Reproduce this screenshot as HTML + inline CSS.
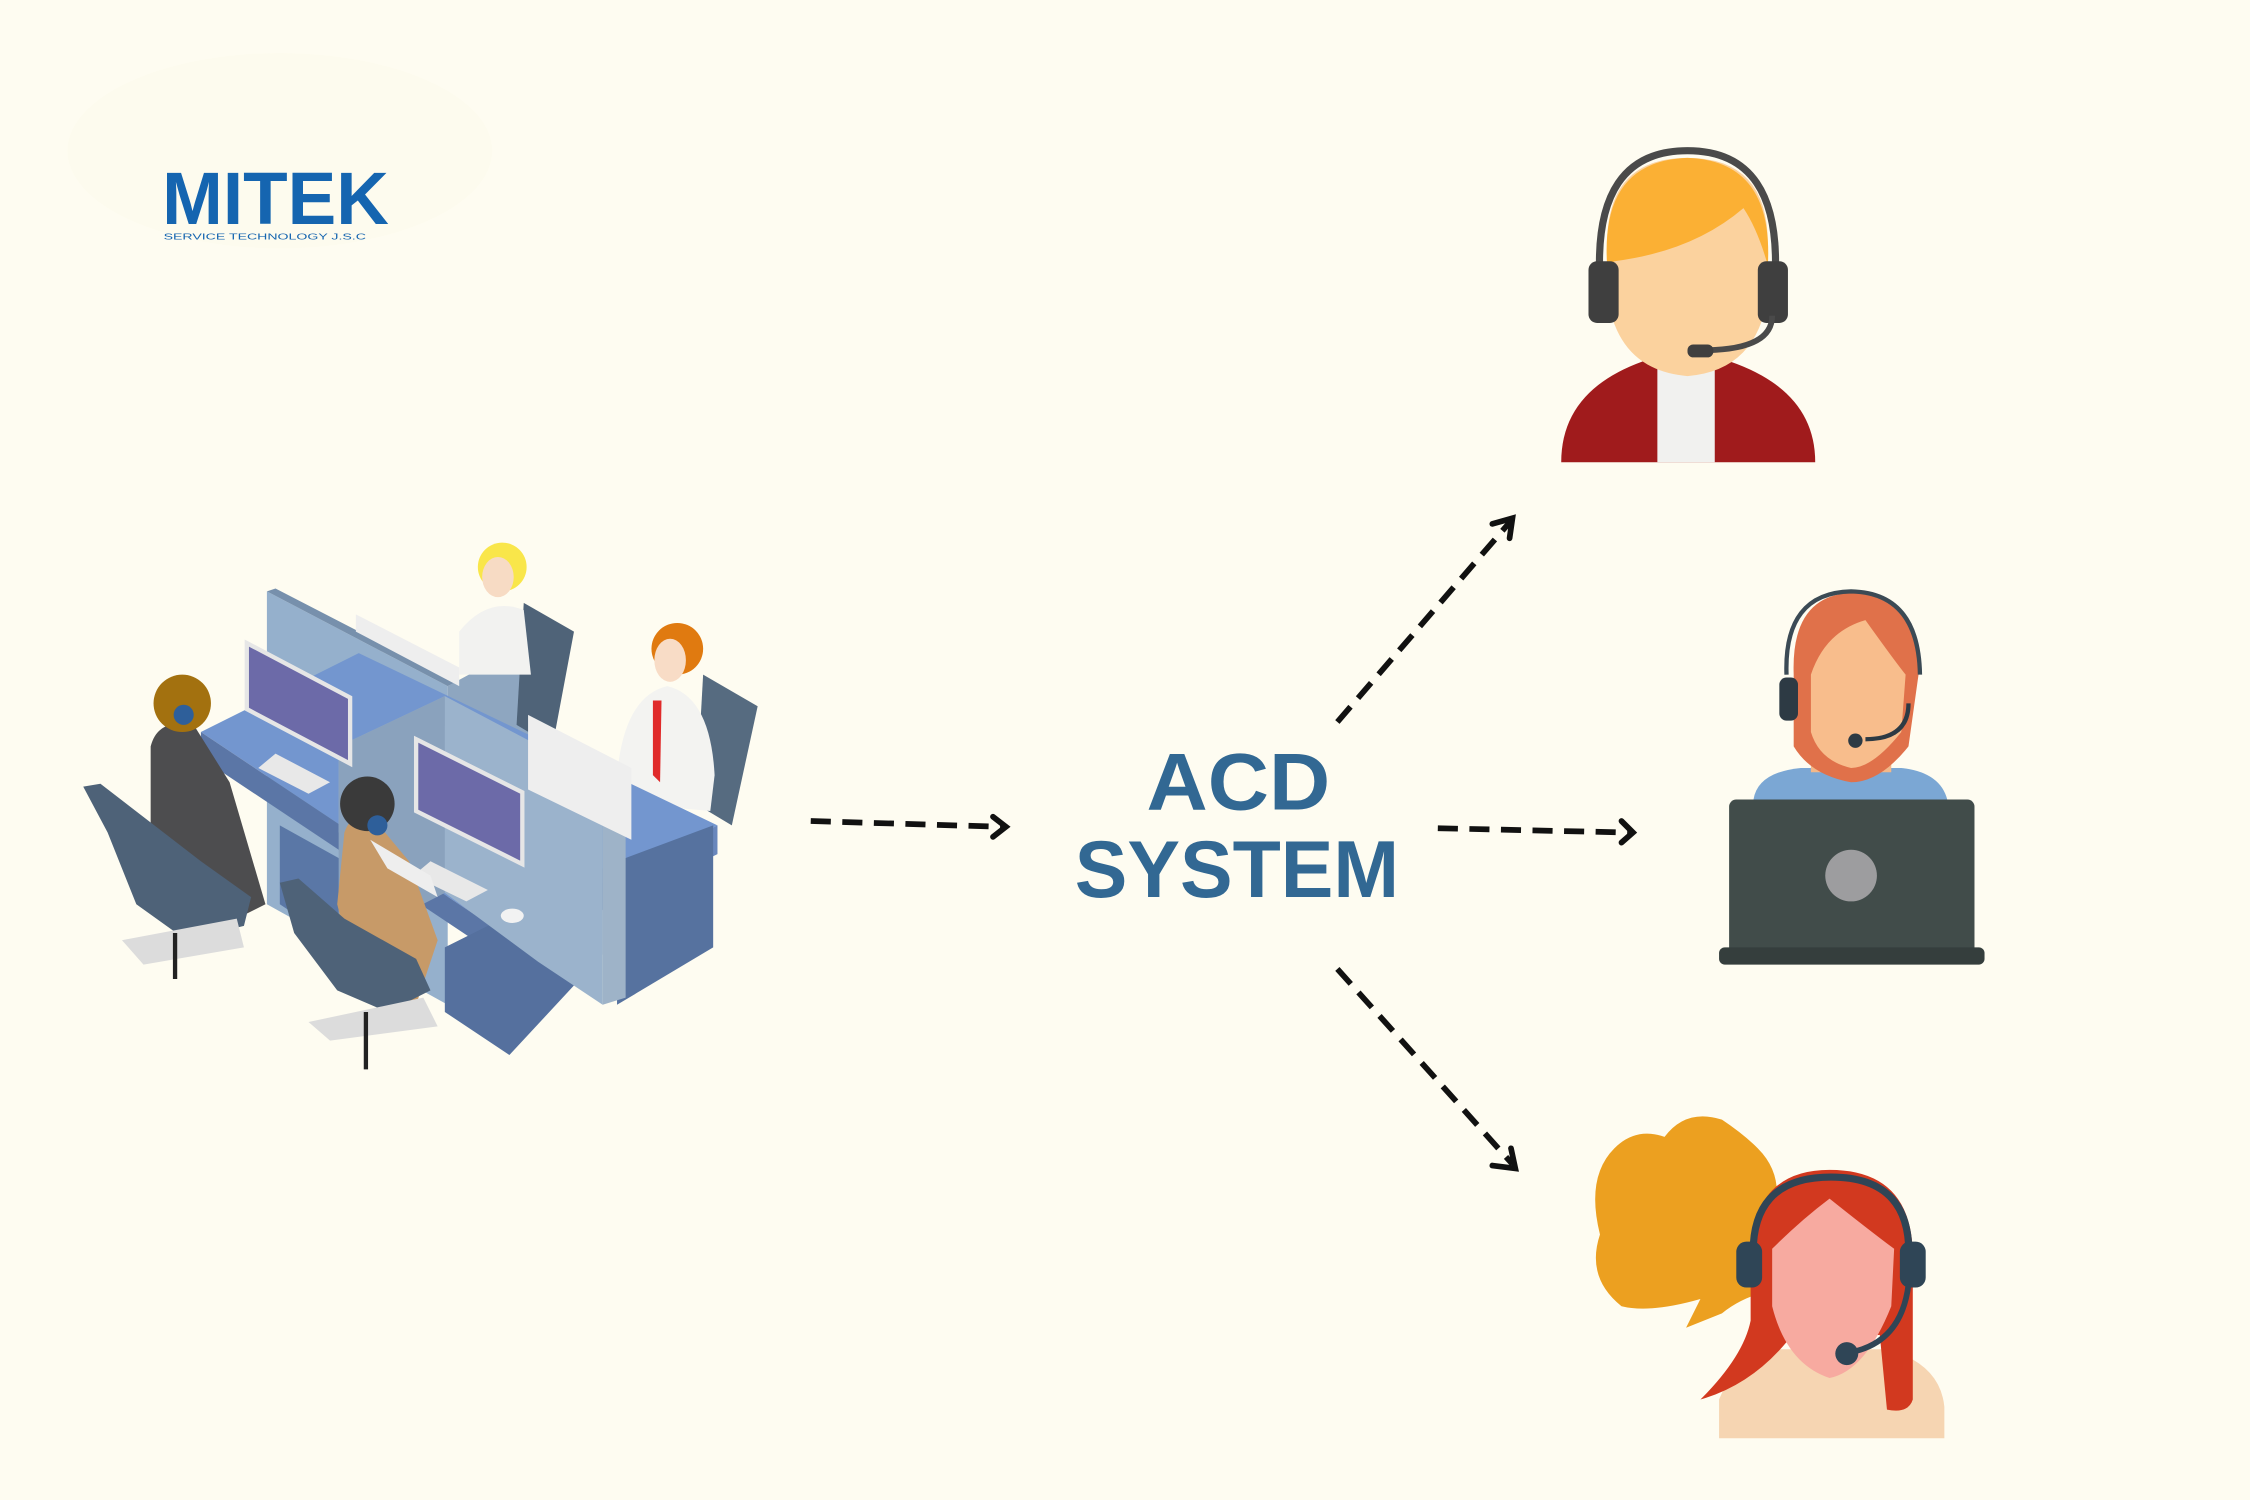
<!DOCTYPE html>
<html><head><meta charset="utf-8"><style>
html,body{margin:0;padding:0;background:#fefcf1;}
svg{display:block}
</style></head><body>
<svg width="2250" height="1500" viewBox="0 0 1568 1045" preserveAspectRatio="none" xmlns="http://www.w3.org/2000/svg">
<rect width="1568" height="1045" fill="#fefcf1"/>
<ellipse cx="195" cy="105" rx="148" ry="68" fill="#fdfbee"/>
<!-- logo -->
<text x="113" y="156" font-family="Liberation Sans, sans-serif" font-weight="bold" font-size="52" fill="#1565b0" textLength="158" lengthAdjust="spacingAndGlyphs">MITEK</text>
<text x="114" y="167" font-family="Liberation Sans, sans-serif" font-size="5.5" fill="#1565b0" textLength="141" lengthAdjust="spacingAndGlyphs">SERVICE TECHNOLOGY J.S.C</text>

<!-- ACD SYSTEM -->
<text x="863" y="564" text-anchor="middle" font-family="Liberation Sans, sans-serif" font-weight="bold" font-size="56" fill="#326893" textLength="128" lengthAdjust="spacingAndGlyphs">ACD</text>
<text x="862" y="625" text-anchor="middle" font-family="Liberation Sans, sans-serif" font-weight="bold" font-size="56" fill="#326893" textLength="226" lengthAdjust="spacingAndGlyphs">SYSTEM</text>

<!-- arrows -->
<g stroke="#111" stroke-width="4" fill="none" stroke-dasharray="14,8">
<line x1="565" y1="572" x2="698" y2="576"/>
<line x1="1002" y1="577" x2="1135" y2="580"/>
<line x1="932" y1="503" x2="1052" y2="364"/>
<line x1="932" y1="675" x2="1054" y2="811"/>
</g>
<g stroke="#111" stroke-width="4" fill="none" stroke-linecap="round">
<polyline points="692,569 701,576 692,583"/>
<polyline points="1130,572 1138,580 1130,587"/>
<polyline points="1040,365 1054,361 1052,375"/>
<polyline points="1040,812 1056,814 1053,800"/>
</g>

<!-- agent 1 -->
<path d="M1088,322 Q1088,270 1150,250 L1200,250 Q1265,270 1265,322 Z" fill="#a01b1c"/>
<path d="M1155,252 L1195,252 L1195,322 L1155,322 Z" fill="#f1f1ef"/>
<rect x="1158" y="225" width="34" height="30" fill="#f9d09c"/>
<path d="M1120,170 Q1120,110 1176,110 Q1232,110 1232,170 L1232,205 Q1225,258 1176,262 Q1127,258 1120,205 Z" fill="#fbd29e"/>
<path d="M1120,185 Q1115,112 1176,110 Q1236,112 1232,185 Q1225,160 1215,145 Q1180,175 1125,182 Z" fill="#fbb034"/>
<path d="M1115,195 Q1110,105 1176,105 Q1242,105 1237,195" stroke="#4a4a4a" stroke-width="5" fill="none"/>
<rect x="1107" y="182" width="21" height="43" rx="6" fill="#3f3f3f"/>
<rect x="1225" y="182" width="21" height="43" rx="6" fill="#3f3f3f"/>
<path d="M1235,220 Q1235,243 1190,244" stroke="#4a4a4a" stroke-width="4" fill="none"/>
<rect x="1176" y="240" width="18" height="9" rx="4" fill="#3f3f3f"/>

<!-- agent 2 -->
<path d="M1222,557 Q1225,538 1255,535 L1325,535 Q1352,538 1357,557 Z" fill="#7ba7d4"/>
<rect x="1262" y="520" width="56" height="18" fill="#f2b88a"/>
<path d="M1250,470 Q1248,415 1290,413 Q1336,415 1337,470 L1330,520 Q1310,545 1290,545 Q1262,540 1250,520 Z" fill="#e0714a"/>
<path d="M1262,470 Q1272,440 1300,432 Q1320,460 1328,470 L1325,510 Q1305,535 1290,535 Q1268,530 1262,510 Z" fill="#f8bd8c"/>
<path d="M1245,470 Q1243,413 1290,412 Q1337,413 1338,470" stroke="#3b4a55" stroke-width="3" fill="none"/>
<rect x="1240" y="472" width="13" height="30" rx="5" fill="#2d3a44"/>
<path d="M1330,490 Q1330,515 1300,515" stroke="#2d3a44" stroke-width="3" fill="none"/>
<circle cx="1293" cy="516" r="5" fill="#2d3a44"/>
<rect x="1205" y="557" width="171" height="108" rx="5" fill="#414c4a"/>
<circle cx="1290" cy="610" r="18" fill="#9d9d9f"/>
<rect x="1198" y="660" width="185" height="12" rx="4" fill="#353e3d"/>

<!-- agent 3 -->
<path d="M1130,910 Q1105,890 1115,860 Q1105,820 1125,800 Q1140,785 1160,792 Q1175,772 1200,780 Q1215,790 1225,800 Q1245,820 1235,850 L1230,900 Q1212,905 1200,915 L1175,925 L1185,905 Q1150,915 1130,910 Z" fill="#eca020"/>
<path d="M1198,1002 L1198,975 Q1210,945 1240,940 L1315,940 Q1352,950 1355,980 L1355,1002 Z" fill="#f6d5b2"/>
<path d="M1220,890 Q1215,815 1275,815 Q1335,815 1333,880 L1333,975 Q1330,985 1315,982 L1310,930 L1245,935 Q1220,965 1185,975 Q1215,945 1220,920 Z" fill="#d2391f"/>
<path d="M1235,870 Q1255,850 1275,835 Q1300,855 1320,870 L1318,910 Q1300,955 1275,960 Q1245,950 1235,910 Z" fill="#f7aaa0"/>
<path d="M1222,880 Q1218,820 1276,820 Q1334,820 1330,880" stroke="#2f4556" stroke-width="5" fill="none"/>
<rect x="1210" y="865" width="18" height="32" rx="7" fill="#2f4556"/>
<rect x="1324" y="865" width="18" height="32" rx="7" fill="#2f4556"/>
<path d="M1330,895 Q1325,935 1290,942" stroke="#2f4556" stroke-width="4" fill="none"/>
<circle cx="1287" cy="943" r="8" fill="#2f4556"/>

<!-- office illustration -->
<!-- back partition -->
<polygon points="186,412 312,478 312,700 186,630" fill="#95b0cc"/>
<polygon points="186,412 192,410 318,475 312,478" fill="#7790ac"/>
<polygon points="312,478 382,440 386,580 312,620" fill="#8ea6c0"/>
<!-- back chairs -->
<polygon points="365,420 400,440 385,520 360,505" fill="#4f6378"/>
<polygon points="490,470 528,492 510,575 485,560" fill="#566b80"/>
<!-- back persons -->
<path d="M320,440 Q340,415 365,425 L370,470 L320,470 Z" fill="#f2f2f0"/>
<circle cx="350" cy="395" r="17" fill="#f9e64a"/>
<ellipse cx="347" cy="402" rx="11" ry="14" fill="#f7dbc4"/>
<path d="M430,540 Q435,485 465,478 Q495,485 498,540 L495,565 L440,560 Z" fill="#f3f3f1"/>
<polygon points="455,488 461,488 460,545 455,540" fill="#e02a2a"/>
<circle cx="472" cy="452" r="18" fill="#e07a10"/>
<ellipse cx="467" cy="460" rx="11" ry="15" fill="#f8dcc6"/>
<!-- desks -->
<polygon points="140,510 250,455 500,575 350,650" fill="#7396cf"/>
<polygon points="140,510 350,650 350,668 140,528" fill="#5b76a6"/>
<polygon points="350,650 500,575 500,595 350,668" fill="#6987bc"/>
<polygon points="310,660 420,605 420,665 355,735 310,705" fill="#55709e"/>
<polygon points="430,600 497,575 497,660 430,700" fill="#56729f"/>
<polygon points="195,575 240,600 240,660 195,630" fill="#5a77a6"/>
<!-- front partitions -->
<polygon points="236,520 310,485 420,543 420,700 375,670 310,622 236,580" fill="#9bb3cc"/>
<polygon points="236,520 310,485 310,622 236,660" fill="#8aa2bd"/>
<polygon points="420,543 436,550 436,695 420,700" fill="#9eb3c8"/>
<!-- monitors -->
<polygon points="172,448 244,486 244,532 172,494" fill="#6c6aa8" stroke="#e6e6e6" stroke-width="3"/>
<polygon points="290,515 364,552 364,602 290,565" fill="#6c6aa8" stroke="#e6e6e6" stroke-width="3"/>
<polygon points="248,428 320,465 320,478 248,440" fill="#eeeeee"/>
<polygon points="368,498 440,535 440,585 368,550" fill="#eeeeee"/>
<polygon points="192,525 230,545 215,553 180,535" fill="#e8e8e8"/>
<polygon points="300,600 340,620 325,628 288,610" fill="#e8e8e8"/>
<ellipse cx="357" cy="638" rx="8" ry="5" fill="#f2f2f2"/>
<!-- left person & chair -->
<path d="M105,520 Q110,500 135,505 L160,545 L185,630 L165,640 L130,615 L105,590 Z" fill="#4d4d4f"/>
<circle cx="127" cy="490" r="20" fill="#a3710f"/>
<circle cx="128" cy="498" r="7" fill="#2e5f9a"/>
<polygon points="58,548 70,546 140,600 175,625 170,645 130,655 95,630 75,580" fill="#4e6278"/>
<polygon points="85,655 165,640 170,660 100,672" fill="#dcdcdc"/>
<line x1="122" y1="650" x2="122" y2="682" stroke="#222" stroke-width="3"/>
<!-- front person & chair -->
<path d="M240,580 Q245,565 260,570 L285,600 L305,655 L290,700 L250,690 L235,630 Z" fill="#c79a68"/>
<path d="M258,585 L300,610 L305,625 L270,605 Z" fill="#eeeeee"/>
<circle cx="256" cy="560" r="19" fill="#3a3a3a"/>
<circle cx="263" cy="575" r="7" fill="#2e5f9a"/>
<polygon points="195,615 208,612 240,640 290,668 300,690 270,705 235,690 205,650" fill="#4e6278"/>
<polygon points="215,712 295,695 305,715 230,725" fill="#dcdcdc"/>
<line x1="255" y1="705" x2="255" y2="745" stroke="#222" stroke-width="3"/>
</svg>
</body></html>
